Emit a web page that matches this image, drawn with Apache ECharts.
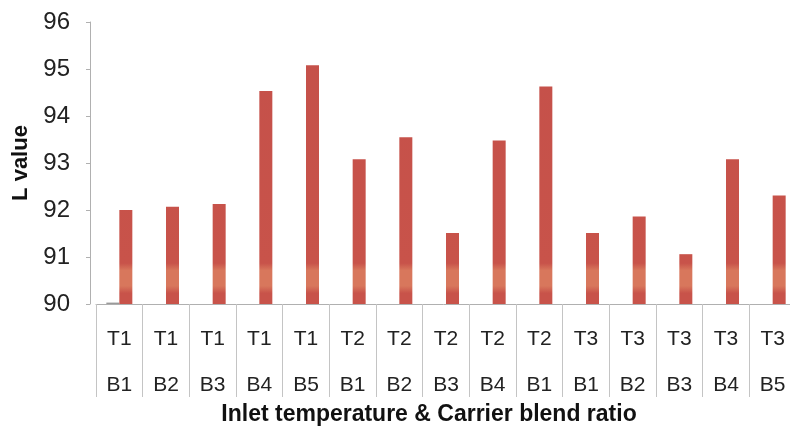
<!DOCTYPE html>
<html><head><meta charset="utf-8">
<script src="https://cdn.jsdelivr.net/npm/echarts@6/dist/echarts.min.js"></script>
<style>html,body{margin:0;padding:0;background:#fff}#c{width:790px;height:428px}</style>
</head><body><div id="c"></div>
<script>
const temps = ['T1','T1','T1','T1','T1','T2','T2','T2','T2','T2','T3','T3','T3','T3','T3'];
const blends = ['B1','B2','B3','B4','B5','B1','B2','B3','B4','B1','B1','B2','B3','B4','B5'];
const lValues = [92.00, 92.07, 92.13, 94.53, 95.08, 93.08, 93.55, 91.51, 93.48, 94.63, 91.51, 91.86, 91.06, 93.08, 92.31];
const baseValues = [90.03, null, null, null, null, null, null, null, null, null, null, null, null, null, null];
const yTicks = [90, 91, 92, 93, 94, 95, 96];
const categories = temps.map((t, i) => t + '\n' + blends[i]);

const chart = echarts.init(document.getElementById('c'), null, {renderer: 'canvas'});
const font = "'Liberation Sans', Arial, sans-serif";
const barColor = {
  type: 'linear', x: 0, y: 0, x2: 0, y2: 428, global: true,
  colorStops: [
    {offset: 0, color: '#C4504A'},
    {offset: 0.615, color: '#C8534A'},
    {offset: 0.632, color: '#D8775C'},
    {offset: 0.668, color: '#D8775C'},
    {offset: 0.685, color: '#C8534A'},
    {offset: 1, color: '#C8534A'}
  ]
};
chart.setOption({
  animation: false,
  grid: {left: 96, right: -6, top: 22, bottom: 124, containLabel: false, outerBoundsMode: 'none'},
  xAxis: {
    type: 'category',
    data: categories,
    axisLine: {show: true, lineStyle: {color: '#b0b0b0', width: 1}},
    axisTick: {show: true, interval: 0, length: 93, lineStyle: {color: '#c4c4c4'}},
    axisLabel: {
      interval: 0, margin: 12, color: '#222', fontFamily: font, fontSize: 21,
      lineHeight: 46
    },
    name: 'Inlet temperature & Carrier blend ratio',
    nameLocation: 'middle', nameGap: 99, nameMoveOverlap: false,
    nameTextStyle: {fontFamily: font, fontSize: 23, fontWeight: 'bold', color: '#111',
      padding: [0, 34, 0, 0]}
  },
  yAxis: {
    type: 'value', min: yTicks[0], max: yTicks[yTicks.length - 1], interval: 1,
    offset: 6,
    axisLine: {show: true, lineStyle: {color: '#b0b0b0'}},
    axisTick: {show: true, length: 4, lineStyle: {color: '#b0b0b0'}},
    splitLine: {show: false},
    axisLabel: {margin: 20, color: '#222', fontFamily: font, fontSize: 24},
    name: 'L value', nameLocation: 'middle', nameGap: 58, nameRotate: 90, nameMoveOverlap: false,
    nameTextStyle: {fontFamily: font, fontSize: 22, fontWeight: 'bold', color: '#111'}
  },
  series: [
    {type: 'bar', data: baseValues, barWidth: 13, barGap: '0%',
     itemStyle: {color: '#9a9a9a'}},
    {type: 'bar', data: lValues, barWidth: 13, barGap: '0%',
     itemStyle: {color: barColor}}
  ]
});
</script></body></html>
